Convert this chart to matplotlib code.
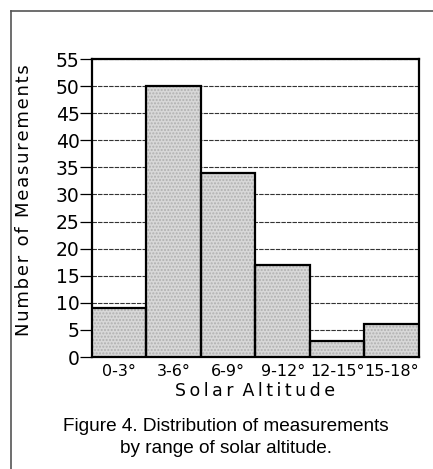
import numpy as np
import matplotlib.pyplot as plt
from matplotlib.lines import Line2D

# Distribucion de mediciones por altitud solar
rangos = ['0-3°', '3-6°', '6-9°', '9-12°', '12-15°', '15-18°']
conteos = [9, 50, 34, 17, 3, 6]
yticks = np.arange(0, 56, 5)

def espaciar(s, sep):
    # letras separadas con un espacio estrecho
    return ' \u2009'.join(sep.join(w) for w in s.split(' '))

fig = plt.figure(figsize=(4.33, 4.69), dpi=100)
ax = fig.add_axes([0.2125, 0.2388, 0.755, 0.6354])

x = np.arange(len(rangos))
# relleno punteado gris claro
ax.bar(x, conteos, width=1.0, color='#d8d8d8', edgecolor='#b0b0b0',
       linewidth=0, hatch='.....', zorder=3)
# bordes negros
ax.bar(x, conteos, width=1.0, fill=False, edgecolor='black',
       linewidth=1.6, zorder=4)

ax.set_xlim(-0.5, len(rangos) - 0.5)
ax.set_ylim(0, 55)
ax.set_yticks(yticks)
ax.set_xticks(x)
ax.set_xticklabels(rangos, fontsize=11.5)
ax.tick_params(axis='y', labelsize=13.5, length=9, width=0.9, direction='out', pad=0)
ax.tick_params(axis='x', length=0, pad=5)
ax.yaxis.grid(True, color='#333333', linestyle=(0, (4, 1)), linewidth=0.8, zorder=0)
ax.set_axisbelow(True)
for s in ax.spines.values():
    s.set_linewidth(1.6)

ax.set_ylabel(espaciar('Number of Measurements', '\u200a'), fontsize=13)
ax.yaxis.set_label_coords(-0.18, 0.527)
ax.set_xlabel(espaciar('Solar Altitude', '\u2009'), fontsize=12.5, labelpad=2)

fig.text(0.522, 0.067, 'Figure 4. Distribution of measurements\nby range of solar altitude.',
         ha='center', va='center', fontsize=13.7, family='Liberation Sans',
         linespacing=1.35)

# marco de la pagina
fig.add_artist(Line2D([11/433, 11/433], [0, 1 - 11/469], color='#555555', lw=1.2))
fig.add_artist(Line2D([11/433, 1], [1 - 11/469, 1 - 11/469], color='#555555', lw=1.2))

plt.savefig('out.png', dpi=100)
